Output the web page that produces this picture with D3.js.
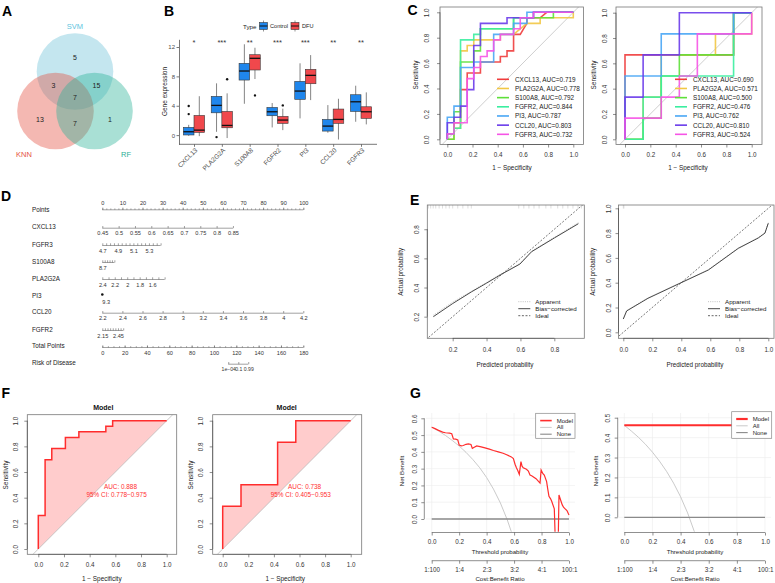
<!DOCTYPE html>
<html>
<head>
<meta charset="utf-8">
<script src="https://d3js.org/d3.v7.min.js"></script>
<style>
body { margin: 0; background: #fff; }
</style>
</head>
<body>
<div id="fig"></div>
<script>
const FONT = "'Liberation Sans', Arial, sans-serif";

// ---------------- data ----------------
// A - venn of selected genes
const vennSets = ["SVM", "KNN", "RF"];
const vennRegions = ["SVM", "KNN", "RF", "SVM&KNN", "SVM&RF", "KNN&RF", "SVM&KNN&RF"];
const vennCounts = [5, 13, 1, 3, 15, 7, 7];

// B - boxplots: [lower whisker, Q1, median, Q3, upper whisker]
const genes = ["CXCL13", "PLA2G2A", "S100A8", "FGFR2", "PI3", "CCL20", "FGFR3"];
const groups = ["Control", "DFU"];
const controlBox = [[-0.1, 0.02, 0.46, 1.06, 1.4], [0.45, 3.04, 4.05, 5.28, 7.05], [4.27, 7.5, 8.73, 9.78, 12.37],
  [1.05, 2.64, 3.18, 3.77, 4.37], [2.28, 4.87, 6.0, 7.32, 9.78], [0.32, 0.55, 1.23, 2.14, 4.09], [1.82, 3.23, 4.54, 5.5, 6.73]];
const dfuBox = [[-0.14, 0.37, 0.68, 2.68, 5.3], [-0.4, 1.0, 1.32, 3.23, 5.69], [7.64, 8.87, 10.46, 10.95, 11.9],
  [0.68, 1.6, 2.05, 2.55, 3.6], [4.77, 7.0, 8.14, 8.96, 10.9], [-0.6, 1.6, 2.14, 3.55, 4.95], [1.46, 2.28, 3.18, 3.86, 5.82]];
const controlOut = [[3.96, 2.86], [-0.27], [], [], [], [], []];
const dfuOut = [[], [7.6], [5.41], [4.05], [], [], []];
const sigLabels = ["*", "***", "**", "***", "***", "**", "**"];

// C - ROC curves per gene, [1-specificity, sensitivity]
const aucTrain = [0.719, 0.778, 0.792, 0.844, 0.787, 0.803, 0.732];
const aucTest = [0.690, 0.571, 0.500, 0.476, 0.762, 0.810, 0.524];
const rocTrain = [
  [[0,0],[0,0.043],[0.053,0.043],[0.053,0.13],[0.105,0.13],[0.105,0.391],[0.158,0.391],[0.158,0.522],[0.263,0.522],[0.263,0.609],[0.421,0.609],[0.421,0.652],[0.474,0.652],[0.474,0.696],[0.526,0.696],[0.526,0.826],[0.579,0.826],[0.605,0.87],[0.632,0.913],[0.632,0.957],[0.737,0.957],[0.789,1],[1,1]],
  [[0,0],[0.053,0],[0.053,0.087],[0.105,0.087],[0.105,0.696],[0.158,0.696],[0.158,0.739],[0.21,0.739],[0.21,0.783],[0.421,0.783],[0.421,0.826],[0.526,0.826],[0.579,0.87],[0.632,0.913],[0.737,0.913],[0.737,0.957],[1,0.957],[1,1]],
  [[0,0],[0.053,0],[0.053,0.217],[0.105,0.217],[0.105,0.609],[0.21,0.609],[0.21,0.696],[0.263,0.696],[0.263,0.87],[0.526,0.87],[0.526,0.957],[0.842,0.957],[0.842,1],[1,1]],
  [[0,0],[0,0.043],[0.053,0.043],[0.053,0.087],[0.105,0.087],[0.105,0.783],[0.21,0.783],[0.21,0.826],[0.263,0.826],[0.263,0.87],[0.526,0.87],[0.526,0.957],[0.684,0.957],[0.684,1],[1,1]],
  [[0,0],[0,0.174],[0.053,0.174],[0.053,0.261],[0.105,0.261],[0.105,0.565],[0.21,0.565],[0.21,0.609],[0.368,0.609],[0.368,0.826],[0.526,0.826],[0.526,0.913],[0.632,0.913],[0.632,1],[1,1]],
  [[0,0],[0,0.13],[0.053,0.13],[0.053,0.174],[0.105,0.174],[0.105,0.261],[0.158,0.261],[0.158,0.391],[0.21,0.391],[0.21,0.739],[0.263,0.739],[0.263,0.913],[0.474,0.913],[0.474,0.957],[0.684,0.957],[0.684,1],[1,1]],
  [[0,0],[0,0.043],[0.053,0.043],[0.053,0.13],[0.158,0.13],[0.158,0.478],[0.21,0.478],[0.21,0.565],[0.263,0.565],[0.263,0.652],[0.316,0.652],[0.316,0.696],[0.368,0.696],[0.368,0.783],[0.421,0.783],[0.421,0.826],[0.526,0.826],[0.526,0.87],[0.579,0.87],[0.579,0.957],[0.684,0.957],[0.684,1],[1,1]]
];
const rocTest = [
  [[0,0],[0,0.667],[0.857,0.667],[0.857,1],[1,1]],
  [[0,0],[0.143,0],[0.143,0.333],[0.286,0.333],[0.286,0.667],[0.714,0.667],[0.714,0.833],[1,0.833],[1,1]],
  [[0,0],[0.143,0],[0.143,0.167],[0.286,0.167],[0.286,0.5],[0.429,0.5],[0.429,0.667],[0.857,0.667],[0.857,1],[1,1]],
  [[0,0],[0.143,0],[0.143,0.333],[0.286,0.333],[0.286,0.5],[0.857,0.5],[0.857,1],[1,1]],
  [[0,0],[0,0.5],[0.286,0.5],[0.286,0.833],[0.857,0.833],[0.857,1],[1,1]],
  [[0,0],[0,0.333],[0.143,0.333],[0.143,0.667],[0.429,0.667],[0.429,1],[1,1]],
  [[0,0],[0,0.167],[0.286,0.167],[0.286,0.333],[0.429,0.333],[0.429,0.5],[0.571,0.5],[0.571,0.833],[1,0.833],[1,1]]
];

// D - nomogram
const nomoVars = ["CXCL13", "FGFR3", "S100A8", "PLA2G2A", "PI3", "CCL20", "FGFR2"];
const nomoRange = [[0.45, 0.85], [4.7, 5.45], [8.7, 9.2], [2.4, 1.4], [9.3, 9.3], [2.2, 4.2], [2.15, 2.55]];
const nomoMaxPts = [65, 29, 6, 31, 0, 100, 10.4];
const nomoTicks = [
  [0.45,0.5,0.55,0.6,0.65,0.7,0.75,0.8,0.85],
  [4.7,4.75,4.8,4.85,4.9,4.95,5.0,5.05,5.1,5.15,5.2,5.25,5.3,5.35,5.4,5.45],
  [8.7,8.8,8.9,9.0,9.1,9.2],
  [2.4,2.3,2.2,2.1,2.0,1.9,1.8,1.7,1.6,1.5,1.4],
  [9.3],
  [2.2,2.4,2.6,2.8,3.0,3.2,3.4,3.6,3.8,4.0,4.2],
  [2.15,2.2,2.25,2.3,2.35,2.4,2.45,2.5,2.55]
];
const nomoLabels = [
  ["0.45","0.5","0.55","0.6","0.65","0.7","0.75","0.8","0.85"],
  ["4.7","4.9","5.1","5.3"],
  ["8.7"],
  ["2.4","2.2","2","1.8","1.6"],
  ["9.3"],
  ["2.2","2.4","2.6","2.8","3","3.2","3.4","3.6","3.8","4","4.2"],
  ["2.15","2.45"]
];
const pointsLabels = [0,10,20,30,40,50,60,70,80,90,100];
const totalLabels = [0,20,40,60,80,100,120,140,160,180];
const riskLabels = ["1e\u221204", "0.1", "0.99"];
const riskTotalPts = [112.8, 121.8, 130.7];

// E - calibration curves [predicted, actual]
const calLeftApparent = [[0.086,0.21],[0.2,0.3],[0.312,0.375],[0.4,0.435],[0.48,0.49],[0.597,0.565],[0.666,0.65],[0.8,0.745],[0.942,0.845]];
const calLeftBias = [[0.086,0.2],[0.2,0.29],[0.312,0.371],[0.4,0.43],[0.48,0.486],[0.597,0.561],[0.666,0.646],[0.8,0.74],[0.942,0.838]];
const calLeftRug = [0.056,0.07,0.085,0.1,0.12,0.14,0.16,0.18,0.2,0.23,0.26,0.29,0.31,0.59,0.62,0.65,0.68,0.71,0.75,0.78,0.82,0.85,0.88,0.91,0.94,0.96];
const calRightApparent = [[0,0.112],[0.023,0.176],[0.17,0.278],[0.39,0.398],[0.586,0.505],[0.793,0.68],[0.93,0.763],[0.977,0.803],[1,0.885]];
const calRightBias = [[0,0.107],[0.023,0.172],[0.17,0.274],[0.39,0.395],[0.586,0.502],[0.793,0.677],[0.93,0.76],[0.977,0.8],[1,0.88]];
const calRightRug = [0, 0.004];

// F - model ROC
const rocModelTrain = [[0,0],[0,0.261],[0.053,0.261],[0.053,0.696],[0.105,0.696],[0.105,0.783],[0.211,0.783],[0.211,0.87],[0.316,0.87],[0.316,0.913],[0.526,0.913],[0.526,0.957],[0.579,0.957],[0.579,1],[1,1]];
const rocModelTest = [[0,0],[0,0.333],[0.143,0.333],[0.143,0.5],[0.429,0.5],[0.429,0.833],[0.571,0.833],[0.571,1],[1,1]];
const modelAuc = ["AUC: 0.888", "AUC: 0.738"];
const modelCi = ["95% CI: 0.778\u22120.975", "95% CI: 0.405\u22120.953"];

// G - decision curves [threshold, net benefit]
const dcaLeftModel = [[0,0.547],[0.02,0.54],[0.05,0.528],[0.08,0.518],[0.1,0.514],[0.13,0.512],[0.146,0.508],[0.158,0.477],[0.175,0.476],[0.19,0.471],[0.2,0.441],[0.215,0.436],[0.23,0.438],[0.25,0.445],[0.267,0.447],[0.286,0.444],[0.296,0.421],[0.31,0.427],[0.328,0.435],[0.36,0.43],[0.388,0.424],[0.42,0.416],[0.45,0.408],[0.485,0.4],[0.52,0.392],[0.546,0.383],[0.58,0.37],[0.595,0.36],[0.607,0.326],[0.617,0.305],[0.626,0.29],[0.638,0.266],[0.65,0.342],[0.658,0.315],[0.667,0.305],[0.69,0.296],[0.704,0.286],[0.716,0.262],[0.728,0.258],[0.76,0.24],[0.789,0.214],[0.797,0.292],[0.81,0.27],[0.82,0.262],[0.837,0.223],[0.845,0.18],[0.854,0.135],[0.866,0.12],[0.874,0.106],[0.893,0.06],[0.903,-0.2],[0.92,-0.2],[0.927,0.143],[0.94,0.11],[0.951,0.084],[0.96,0.07],[0.97,0.062],[0.985,0.05],[1,0.024]];
const dcaLeftAll = [[0,0.548],[0.05,0.524],[0.1,0.498],[0.15,0.468],[0.2,0.435],[0.25,0.397],[0.3,0.354],[0.35,0.305],[0.4,0.247],[0.45,0.178],[0.5,0.096],[0.55,-0.004],[0.58,-0.076],[0.6,-0.13]];
const dcaRightModel = [[0,0.462],[1,0.462]];
const dcaRightAll = [[0,0.462],[0.05,0.433],[0.1,0.402],[0.15,0.367],[0.2,0.327],[0.25,0.282],[0.3,0.231],[0.35,0.172],[0.4,0.103],[0.45,0.022],[0.5,-0.076],[0.52,-0.12]];
const dcaNone = [[0,0],[1,0]];
const costBenefit = ["1:100", "1:4", "2:3", "3:2", "4:1", "100:1"];

// ---------------- drawing ----------------
const svg = d3.select("#fig").append("svg").attr("width", 775).attr("height", 583)
  .attr("font-family", FONT);
svg.append("rect").attr("width", 775).attr("height", 583).attr("fill", "#fff");

let clipCount = 0;
function clip(x0, y0, x1, y1) {
  const id = "clip" + (clipCount++);
  svg.append("clipPath").attr("id", id).append("rect")
    .attr("x", x0).attr("y", y0).attr("width", x1 - x0).attr("height", y1 - y0);
  return "url(#" + id + ")";
}

function txt(g, x, y, s, o) {
  o = o || {};
  const t = g.append("text").attr("x", x).attr("y", y).text(s)
    .attr("font-size", o.size || 6.5).attr("fill", o.fill || "#222")
    .attr("text-anchor", o.anchor || "start").attr("dominant-baseline", o.base || "central");
  if (o.bold) t.attr("font-weight", "bold");
  if (o.rot) t.attr("transform", "rotate(" + o.rot + "," + x + "," + y + ")");
  return t;
}

// base-R looking axis: line only from first to last tick
function rAxis(g, scale, side, pos, ticks, o) {
  o = o || {};
  const tl = o.tick == null ? 3 : o.tick;
  const pad = o.pad == null ? 3 : o.pad;
  const ax = (side === "bottom" ? d3.axisBottom(scale) : d3.axisLeft(scale))
    .tickValues(ticks).tickSize(tl).tickSizeOuter(0).tickPadding(pad)
    .tickFormat(o.fmt || d3.format(".1f"));
  const a = g.append("g")
    .attr("transform", side === "bottom" ? "translate(0," + pos + ")" : "translate(" + pos + ",0)")
    .call(ax).attr("font-size", o.size || 6.3).attr("font-family", FONT);
  a.select(".domain").remove();
  const p0 = scale(ticks[0]), p1 = scale(ticks[ticks.length - 1]);
  if (side === "bottom") a.append("line").attr("x1", p0).attr("x2", p1);
  else a.append("line").attr("y1", p0).attr("y2", p1);
  a.selectAll("line").attr("stroke", o.col || "#444").attr("stroke-width", 0.6);
  a.selectAll("text").attr("fill", "#333");
  if (side === "left") {
    a.selectAll(".tick text").attr("x", null).attr("dy", null)
      .attr("transform", "translate(" + (-(tl + pad)) + ",0) rotate(-90)")
      .attr("text-anchor", "middle");
  }
  return a;
}

// panel letters
[["A", 2, 15.7], ["B", 164, 15.7], ["C", 407.5, 15], ["D", 1, 201], ["E", 410, 204.5], ["F", 1.5, 398], ["G", 410, 398]]
  .forEach(d => txt(svg, d[1], d[2], d[0], {size: 14, bold: true, base: "alphabetic", fill: "#000"}));

// ---------- A ----------
(function () {
  const g = svg.append("g");
  const centers = {SVM: [75, 71.5], KNN: [55.5, 111], RF: [94.5, 111]};
  const fills = {SVM: "#6BC0D7", KNN: "#E34D3E", RF: "#28B196"};
  const labelCol = {SVM: "#5EC4DE", KNN: "#E5533F", RF: "#2BAF96"};
  const labelPos = {SVM: [75, 26], KNN: [24, 154], RF: [126, 154]};
  const countPos = [[75, 57], [40, 119], [110, 119], [53.5, 85], [96.5, 85], [75, 123], [75, 97]];
  g.selectAll("circle").data(vennSets).join("circle")
    .attr("cx", d => centers[d][0]).attr("cy", d => centers[d][1]).attr("r", 38.3)
    .attr("fill", d => fills[d]).attr("fill-opacity", 0.4);
  vennSets.forEach(s => txt(g, labelPos[s][0], labelPos[s][1], s, {size: 7.5, anchor: "middle", fill: labelCol[s]}));
  vennCounts.forEach((c, i) => txt(g, countPos[i][0], countPos[i][1], c, {size: 7, anchor: "middle", fill: "#222"}));
})();

// ---------- B ----------
(function () {
  const g = svg.append("g");
  const y = d3.scaleLinear().domain([-1.25, 13.05]).range([144.3, 39.3]);
  const x = d3.scalePoint().domain(genes).range([194, 361]);
  const sub = d3.scaleBand().domain(groups).range([-10.6, 10.6]);
  const col = {Control: "#1F86EC", DFU: "#F0484C"};
  const stats = {Control: controlBox, DFU: dfuBox};
  const outs = {Control: controlOut, DFU: dfuOut};

  const ya = g.append("g").attr("transform", "translate(179,0)")
    .call(d3.axisLeft(y).tickValues([0, 4, 8, 12]).tickSize(2.5).tickSizeOuter(0).tickPadding(1.5))
    .attr("font-size", 6).attr("font-family", FONT);
  ya.selectAll("path,line").attr("stroke", "#555").attr("stroke-width", 0.8);
  ya.selectAll("text").attr("fill", "#4D4D4D");

  const xa = g.append("g").attr("transform", "translate(0,144.3)")
    .call(d3.axisBottom(x).tickSize(2.5).tickSizeOuter(0))
    .attr("font-size", 6.5).attr("font-family", FONT);
  xa.select(".domain").remove();
  xa.append("line").attr("x1", 179).attr("x2", 377);
  xa.selectAll("line").attr("stroke", "#555").attr("stroke-width", 0.8);
  xa.selectAll(".tick text").attr("y", 0).attr("dy", 0).attr("fill", "#4D4D4D")
    .attr("text-anchor", "end").attr("transform", "translate(3.3,6.3) rotate(-45)");

  genes.forEach((gn, i) => {
    groups.forEach(grp => {
      const s = stats[grp][i];
      const cx = x(gn) + sub(grp) + sub.bandwidth() / 2;
      const w = sub.bandwidth();
      g.append("line").attr("x1", cx).attr("x2", cx).attr("y1", y(s[0])).attr("y2", y(s[4]))
        .attr("stroke", "#666").attr("stroke-width", 0.8);
      g.append("rect").attr("x", cx - w / 2).attr("width", w).attr("y", y(s[3])).attr("height", y(s[1]) - y(s[3]))
        .attr("fill", col[grp]).attr("stroke", "#3a3a3a").attr("stroke-width", 0.6);
      g.append("line").attr("x1", cx - w / 2).attr("x2", cx + w / 2).attr("y1", y(s[2])).attr("y2", y(s[2]))
        .attr("stroke", "#111").attr("stroke-width", 1.3);
      outs[grp][i].forEach(v => g.append("circle").attr("cx", cx).attr("cy", y(v)).attr("r", 1.2).attr("fill", "#111"));
    });
    txt(g, x(gn), 45, sigLabels[i], {size: 7.5, anchor: "middle", base: "alphabetic", fill: "#333"});
  });

  txt(g, 164, 91.5, "Gene expression", {size: 6.5, anchor: "middle", rot: -90, fill: "#222"});

  // legend
  txt(g, 243, 26, "Type", {size: 6.2, fill: "#222"});
  [["Control", 259.5, 270], ["DFU", 291, 302]].forEach(d => {
    const c = col[d[0]];
    g.append("line").attr("x1", d[1] + 4).attr("x2", d[1] + 4).attr("y1", 20.5).attr("y2", 31.5).attr("stroke", "#666").attr("stroke-width", 0.7);
    g.append("rect").attr("x", d[1]).attr("y", 22.5).attr("width", 8).attr("height", 7)
      .attr("fill", c).attr("stroke", "#3a3a3a").attr("stroke-width", 0.6);
    g.append("line").attr("x1", d[1]).attr("x2", d[1] + 8).attr("y1", 26).attr("y2", 26).attr("stroke", "#111").attr("stroke-width", 1);
    txt(g, d[2], 26, d[0], {size: 5.6, fill: "#222"});
  });
})();

// ---------- C ----------
const rocColors = ["#F03C3C", "#F2C744", "#5EE03A", "#3BEEA0", "#49A6F5", "#6A3BEA", "#F654E6"];
function rocGenePanel(curves, aucs, xr, yr, box, legX, ylabX, xlabX) {
  const g = svg.append("g");
  const x = d3.scaleLinear().domain([0, 1]).range(xr);
  const y = d3.scaleLinear().domain([0, 1]).range(yr);
  const cp = clip(box[0], box[1], box[2], box[3]);
  g.append("line").attr("clip-path", cp)
    .attr("x1", x(-0.2)).attr("y1", y(-0.2)).attr("x2", x(1.2)).attr("y2", y(1.2))
    .attr("stroke", "#c8c8c8").attr("stroke-width", 0.9);
  const line = d3.line().x(d => x(d[0])).y(d => y(d[1]));
  curves.forEach((c, i) => g.append("path").attr("d", line(c)).attr("fill", "none")
    .attr("stroke", rocColors[i]).attr("stroke-width", 1.6).attr("stroke-opacity", 0.9));
  g.append("rect").attr("x", box[0]).attr("y", box[1]).attr("width", box[2] - box[0]).attr("height", box[3] - box[1])
    .attr("fill", "none").attr("stroke", "#777").attr("stroke-width", 0.8);
  const t = [0, 0.2, 0.4, 0.6, 0.8, 1];
  rAxis(g, x, "bottom", box[3], t, {pad: 5});
  rAxis(g, y, "left", box[0], t, {pad: ylabX});
  genes.forEach((gn, i) => {
    const ly = 79.3 + 9.17 * i;
    g.append("line").attr("x1", legX).attr("x2", legX + 12).attr("y1", ly).attr("y2", ly)
      .attr("stroke", rocColors[i]).attr("stroke-width", 1.6);
    txt(g, legX + 18, ly, gn + ", AUC=" + aucs[i].toFixed(3), {size: 6.4, fill: "#222"});
  });
  txt(g, box[0] - 25 + (ylabX > 7 ? 0 : 2), 75, "Sensitivity", {size: 6.4, anchor: "middle", rot: -90});
  txt(g, xlabX, 167.7, "1 \u2212 Specificity", {size: 6.4, anchor: "middle"});
}
rocGenePanel(rocTrain, aucTrain, [447.3, 573.3], [139.3, 12.3], [440, 7, 583.5, 144.5], 497, 8.5, 512);
rocGenePanel(rocTest, aucTest, [625, 751.7], [139.3, 12.7], [616, 7, 762, 144.5], 675, 5.7, 688);

// ---------- D ----------
(function () {
  const g = svg.append("g");
  const pts = d3.scaleLinear().domain([0, 100]).range([102.3, 303.3]);
  const tot = d3.scaleLinear().domain([0, 180]).range([102.3, 303.3]);
  const rowY = {Points: 209.3, CXCL13: 226.7, FGFR3: 244, S100A8: 261, PLA2G2A: 278, PI3: 295, CCL20: 311.7, FGFR2: 329,
    "Total Points": 345.7, "Risk of Disease": 362.7};
  Object.keys(rowY).forEach(k => txt(g, 32, rowY[k], k, {size: 6.3, fill: "#222"}));
  const fs = 5.6;

  function scaleRow(sc, yl, ticks, labVals, labTxt, minor, top, size) {
    const a1 = g.append("g").attr("transform", "translate(0," + yl + ")")
      .call(d3.axisBottom(sc).tickValues(ticks).tickSize(-2.2).tickSizeOuter(0).tickFormat(""));
    a1.select(".domain").remove();
    a1.append("line").attr("x1", sc(ticks[0])).attr("x2", sc(ticks[ticks.length - 1]));
    if (minor) {
      const a0 = g.append("g").attr("transform", "translate(0," + yl + ")")
        .call(d3.axisBottom(sc).tickValues(minor).tickSize(-1.4).tickSizeOuter(0).tickFormat(""));
      a0.select(".domain").remove();
      a0.selectAll("line").attr("stroke", "#555").attr("stroke-width", 0.5);
    }
    a1.selectAll("line").attr("stroke", "#555").attr("stroke-width", 0.55);
    const la = g.append("g").attr("transform", "translate(0," + yl + ")")
      .call(d3.axisBottom(sc).tickValues(labVals).tickSize(0).tickPadding(top ? -9 : 3.2).tickFormat((d, i) => labTxt[i]))
      .attr("font-size", size || fs).attr("font-family", FONT);
    la.select(".domain").remove();
    la.selectAll("text").attr("fill", "#333");
  }

  scaleRow(pts, 209.8, pointsLabels, pointsLabels, pointsLabels.map(String), d3.range(0, 101, 2), true);

  nomoVars.forEach((v, i) => {
    const yl = rowY[v] + 1.5;
    const r = nomoRange[i];
    if (r[0] === r[1]) {
      g.append("circle").attr("cx", pts(0)).attr("cy", rowY[v] - 0.5).attr("r", 1.3).attr("fill", "#111");
      txt(g, pts(0), rowY[v] + 6.6, nomoLabels[i][0], {size: fs, fill: "#333"}).attr("text-anchor", "start");
      return;
    }
    const sc = d3.scaleLinear().domain(r).range([pts(0), pts(nomoMaxPts[i])]);
    scaleRow(sc, yl, nomoTicks[i], nomoLabels[i].map(Number), nomoLabels[i], null, false);
  });

  scaleRow(tot, 347.5, totalLabels, totalLabels, totalLabels.map(String), d3.range(0, 181, 5), false);
  scaleRow(tot, 364.2, riskTotalPts, riskTotalPts, riskLabels, null, false, 5.1);
})();

// ---------- E ----------
function calPanel(app, bias, rug, xr, yr, box, ticks, legX, ylabX, xlabX, ypad) {
  const g = svg.append("g");
  const x = d3.scaleLinear().domain([0, 1]).range(xr);
  const y = d3.scaleLinear().domain([0, 1]).range(yr);
  const cp = clip(box[0], box[1], box[2], box[3]);
  const line = d3.line().x(d => x(d[0])).y(d => y(d[1]));
  g.append("path").attr("clip-path", cp).attr("d", line([[-0.2, -0.2], [1.2, 1.2]])).attr("fill", "none")
    .attr("stroke", "#555").attr("stroke-width", 0.8).attr("stroke-dasharray", "2,1.6");
  g.append("path").attr("d", line(app)).attr("fill", "none").attr("stroke", "#bbb")
    .attr("stroke-width", 0.9).attr("stroke-dasharray", "1,1.2");
  g.append("path").attr("d", line(bias)).attr("fill", "none").attr("stroke", "#333").attr("stroke-width", 0.9);
  rug.forEach(r => g.append("line").attr("x1", x(r)).attr("x2", x(r)).attr("y1", box[1]).attr("y2", box[1] + 3.5)
    .attr("stroke", "#c8c8c8").attr("stroke-width", 0.6));
  g.append("rect").attr("x", box[0]).attr("y", box[1]).attr("width", box[2] - box[0]).attr("height", box[3] - box[1])
    .attr("fill", "none").attr("stroke", "#777").attr("stroke-width", 0.8);
  rAxis(g, x, "bottom", box[3], ticks, {pad: 6});
  rAxis(g, y, "left", box[0], ticks, {pad: ypad});
  const items = [["Apparent", "#bbb", "1,1.2"], ["Bias\u2212corrected", "#333", null], ["Ideal", "#555", "2,1.6"]];
  items.forEach((it, i) => {
    const ly = 301.7 + 7 * i;
    const l = g.append("line").attr("x1", legX).attr("x2", legX + 12).attr("y1", ly).attr("y2", ly)
      .attr("stroke", it[1]).attr("stroke-width", 0.9);
    if (it[2]) l.attr("stroke-dasharray", it[2]);
    txt(g, legX + 17, ly, it[0], {size: 6.2, fill: "#222"});
  });
  txt(g, ylabX, 271.7, "Actual probability", {size: 6.3, anchor: "middle", rot: -90});
  txt(g, xlabX, 364.3, "Predicted probability", {size: 6.3, anchor: "middle"});
}
calPanel(calLeftApparent, calLeftBias, calLeftRug, [418.8, 588.2], [345.8, 200.1], [427.3, 205, 584.3, 338.3],
  [0.2, 0.4, 0.6, 0.8], 518.3, 401, 505, 5.3);
calPanel(calRightApparent, calRightBias, calRightRug, [623.3, 768.3], [332.3, 208.3], [618.5, 205, 774, 338.3],
  [0, 0.2, 0.4, 0.6, 0.8, 1], 708, 592.3, 695, 5);

// ---------- F ----------
function modelRoc(curve, auc, ci, xr, box, titleX, ylabX) {
  const g = svg.append("g");
  const x = d3.scaleLinear().domain([0, 1]).range(xr);
  const y = d3.scaleLinear().domain([0, 1]).range([549, 420.7]);
  const cp = clip(box[0], box[1], box[2], box[3]);
  const line = d3.line().x(d => x(d[0])).y(d => y(d[1]));
  const poly = curve.concat([[1, 1], [0, 0]]);
  g.append("path").attr("d", line(poly) + "Z").attr("fill", "#FFCCCC").attr("stroke", "none");
  g.append("line").attr("clip-path", cp)
    .attr("x1", x(-0.2)).attr("y1", y(-0.2)).attr("x2", x(1.2)).attr("y2", y(1.2))
    .attr("stroke", "#bbb").attr("stroke-width", 0.8);
  g.append("path").attr("d", line(curve)).attr("fill", "none").attr("stroke", "#FF2D2D").attr("stroke-width", 1.5);
  g.append("rect").attr("x", box[0]).attr("y", box[1]).attr("width", box[2] - box[0]).attr("height", box[3] - box[1])
    .attr("fill", "none").attr("stroke", "#777").attr("stroke-width", 0.8);
  const t = [0, 0.2, 0.4, 0.6, 0.8, 1];
  rAxis(g, x, "bottom", box[3], t, {pad: 5.4});
  rAxis(g, y, "left", box[0], t, {pad: 6.5});
  txt(g, x(0.64), 486.7, auc, {size: 6.4, anchor: "middle", fill: "#FF3030"});
  txt(g, x(0.61), 494.3, ci, {size: 6.4, anchor: "middle", fill: "#FF3030"});
  txt(g, titleX, 407.3, "Model", {size: 7, anchor: "middle", bold: true, fill: "#111"});
  txt(g, ylabX, 475, "Sensitivity", {size: 6.4, anchor: "middle", rot: -90});
  txt(g, titleX - 1.5, 578.3, "1 \u2212 Specificity", {size: 6.4, anchor: "middle"});
}
modelRoc(rocModelTrain, modelAuc[0], modelCi[0], [38.3, 166.7], [27.3, 414.7, 176.7, 554.3], 103.3, 5);
modelRoc(rocModelTest, modelAuc[1], modelCi[1], [222.7, 350.7], [212.7, 414.7, 361.7, 554.3], 286.7, 190.7);

// ---------- G ----------
function dcaPanel(model, all, xr, ydom, yr, yTicks, axisX, clipX, leg, ylabX, xlabX, thick) {
  const g = svg.append("g");
  const x = d3.scaleLinear().domain([0, 1]).range(xr);
  const y = d3.scaleLinear().domain(ydom).range(yr);
  const top = 413, bottom = 531.7;
  const cp = clip(clipX[0], top, clipX[1], bottom);
  const xt = [0, 0.2, 0.4, 0.6, 0.8, 1];
  xt.forEach(v => g.append("line").attr("x1", x(v)).attr("x2", x(v)).attr("y1", top).attr("y2", bottom)
    .attr("stroke", "#ececec").attr("stroke-width", 0.6));
  yTicks.forEach(v => g.append("line").attr("x1", clipX[0]).attr("x2", clipX[1]).attr("y1", y(v)).attr("y2", y(v))
    .attr("stroke", "#ececec").attr("stroke-width", 0.6));
  const line = d3.line().x(d => x(d[0])).y(d => y(d[1]));
  g.append("path").attr("clip-path", cp).attr("d", line(all)).attr("fill", "none").attr("stroke", "#c4c4c4").attr("stroke-width", 0.9);
  g.append("path").attr("clip-path", cp).attr("d", line(dcaNone)).attr("fill", "none").attr("stroke", "#8a8a8a").attr("stroke-width", 1.3);
  g.append("path").attr("clip-path", cp).attr("d", line(model)).attr("fill", "none").attr("stroke", "#FF2D2D").attr("stroke-width", thick);
  rAxis(g, y, "left", axisX, yTicks, {pad: 4.3});
  rAxis(g, x, "bottom", 532.5, xt, {pad: 4.5});
  rAxis(g, x, "bottom", 560.7, xt, {pad: 4.3, fmt: (d, i) => costBenefit[i]});
  txt(g, xlabX, 551, "Threshold probability", {size: 6.1, anchor: "middle"});
  txt(g, xlabX, 578.5, "Cost:Benefit Ratio", {size: 6.1, anchor: "middle"});
  txt(g, ylabX, 471, "Net Benefit", {size: 6.2, anchor: "middle", rot: -90});
  // legend
  g.append("rect").attr("x", leg[0]).attr("y", leg[1]).attr("width", leg[2]).attr("height", leg[3])
    .attr("fill", "#fff").attr("stroke", "#888").attr("stroke-width", 0.7);
  [["Model", "#FF2D2D", thick + 0.4], ["All", "#c4c4c4", 0.9], ["None", "#8a8a8a", 1.1]].forEach((it, i) => {
    const ly = leg[1] + 7.3 + 6.8 * i;
    g.append("line").attr("x1", leg[0] + 4.5).attr("x2", leg[0] + 16).attr("y1", ly).attr("y2", ly)
      .attr("stroke", it[1]).attr("stroke-width", it[2]);
    txt(g, leg[0] + 21, ly, it[0], {size: 6, fill: "#222"});
  });
}
dcaPanel(dcaLeftModel, dcaLeftAll, [431.7, 569], [0, 0.6], [519, 418.3], [0, 0.1, 0.2, 0.3, 0.4, 0.5, 0.6], 424.3,
  [426, 575], [535.7, 413.3, 39.3, 25], 401, 500, 1.2);
dcaPanel(dcaRightModel, dcaRightAll, [624.3, 765], [0, 0.5], [517.3, 417.7], [0, 0.1, 0.2, 0.3, 0.4, 0.5], 617.7,
  [618.5, 771], [731.7, 411.7, 40, 26.6], 595, 695, 1.8);
</script>
</body>
</html>
